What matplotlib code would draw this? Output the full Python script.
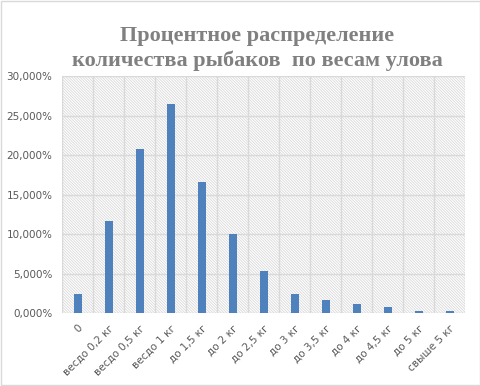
import matplotlib.pyplot as plt
import matplotlib.ticker as mticker

categories = ['0', 'весдо 0,2 кг', 'весдо 0,5 кг', 'весдо 1 кг', 'до 1,5 кг', 'до 2 кг',
              'до 2,5 кг', 'до 3 кг', 'до 3,5 кг', 'до 4 кг', 'до 4,5 кг', 'до 5 кг', 'свыше 5 кг']
shares = [2.4, 11.65, 20.8, 26.5, 16.6, 10.0, 5.3, 2.4, 1.65, 1.15, 0.75, 0.25, 0.25]

plt.rcParams['hatch.linewidth'] = 0.6
plt.rcParams['hatch.color'] = '#d9d9d9'

fig = plt.figure(figsize=(4.81, 3.86), dpi=100)
ax = fig.add_axes([0.129, 0.189, 0.838, 0.614])

# hatched background of the plot area
ax.add_patch(plt.Rectangle((0, 0), 1, 1, transform=ax.transAxes, facecolor='white',
                           edgecolor='#d9d9d9', hatch='\\' * 12, linewidth=0, zorder=0))

x = list(range(len(categories)))
ax.bar(x, shares, width=0.26, color='#4f81bd', zorder=3)

ax.set_xlim(-0.5, len(categories) - 0.5)
ax.set_ylim(0, 30)
ax.set_yticks([0, 5, 10, 15, 20, 25, 30])
ax.yaxis.set_major_formatter(mticker.FuncFormatter(lambda v, p: f'{v:.3f}%'.replace('.', ',')))
ax.set_xticks(x)
ax.set_xticklabels(categories, rotation=45, ha='right', rotation_mode='anchor')

# grid: horizontal at each tick, vertical between categories
for v in [5, 10, 15, 20, 25, 30]:
    ax.axhline(v, color='#d9d9d9', lw=1, zorder=1)
for i in range(len(categories) + 1):
    ax.axvline(i - 0.5, color='#d9d9d9', lw=1, zorder=1)

for s in ax.spines.values():
    s.set_visible(False)
ax.axhline(0, color='#d9d9d9', lw=1, zorder=2)
ax.tick_params(length=0, labelsize=7.5, labelcolor='#595959', pad=7)

fig.text(0.535, 0.908, 'Процентное распределение', ha='center', va='center',
         fontsize=16, fontweight='bold', color='#808080', family='Liberation Serif')
fig.text(0.535, 0.843, 'количества рыбаков  по весам улова', ha='center', va='center',
         fontsize=16, fontweight='bold', color='#808080', family='Liberation Serif')

fig.patches.append(plt.Rectangle((0.002, 0.002), 0.996, 0.996, transform=fig.transFigure,
                                 fill=False, edgecolor='#d9d9d9', lw=1))

fig.savefig('out.png', dpi=100)
